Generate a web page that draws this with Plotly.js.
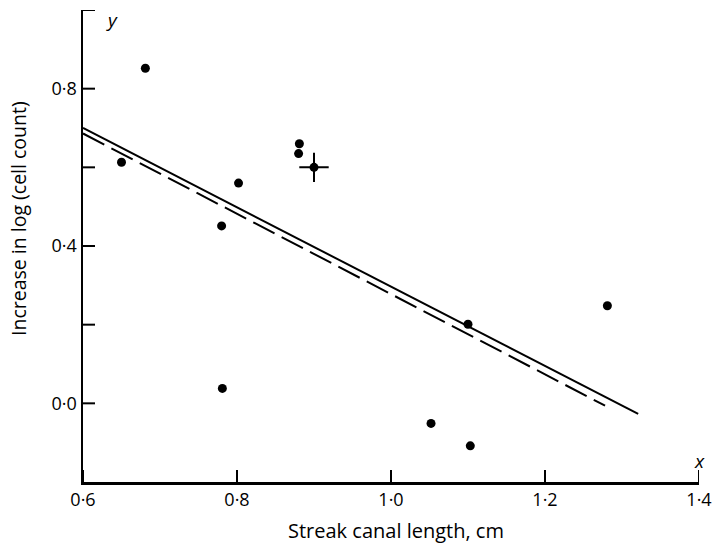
<!DOCTYPE html>
<html>
<head>
<meta charset="utf-8">
<script src="https://cdn.plot.ly/plotly-3.0.1.min.js"></script>
<style>
  html, body { margin: 0; padding: 0; background: #fff; }
  #chart { width: 712px; height: 545px; }
</style>
</head>
<body>
<div id="chart"></div>
<script>
// Streak canal length (cm) vs increase in log (cell count)
const canalLength = [0.650, 0.681, 0.780, 0.781, 0.802, 0.881, 0.880, 1.100, 1.052, 1.103, 1.281];
const logIncrease = [0.613, 0.852, 0.451, 0.038, 0.560, 0.660, 0.635, 0.201, -0.051, -0.108, 0.248];

// Point marked with a cross
const markedX = [0.900];
const markedY = [0.600];

// Fitted regression lines
const solidLineX = [0.600, 1.321];
const solidLineY = [0.700, -0.027];
const dashedLineX = [0.600, 1.278];
const dashedLineY = [0.686, -0.006];

// Axis ticks
const xTickVals = [0.6, 0.8, 1.0, 1.2, 1.4];
const xTickText = ['0·6', '0·8', '1·0', '1·2', '1·4'];
const yTickVals = [0.0, 0.2, 0.4, 0.6, 0.8, 1.0];
const yTickText = ['0·0', '', '0·4', '', '0·8', ''];

const FONT = '"Open Sans", "Noto Sans", sans-serif';
const TICK_LEN = 12;

const traces = [
  {
    x: solidLineX, y: solidLineY, mode: 'lines', type: 'scatter',
    line: { color: '#000', width: 2 }, hoverinfo: 'skip'
  },
  {
    x: dashedLineX, y: dashedLineY, mode: 'lines', type: 'scatter',
    line: { color: '#000', width: 2, dash: '24px,8px' }, hoverinfo: 'skip'
  },
  {
    x: canalLength, y: logIncrease, mode: 'markers', type: 'scatter',
    marker: { color: '#000', size: 9, symbol: 'circle' }
  },
  {
    x: markedX, y: markedY, mode: 'markers', type: 'scatter',
    marker: { color: '#000', size: 9, symbol: 'circle' }
  },
  {
    x: markedX, y: markedY, mode: 'markers', type: 'scatter',
    marker: { color: '#000', size: 21, symbol: 'cross-thin-open', line: { color: '#000', width: 2 } }
  }
];

// Inward tick marks drawn as pixel-length shapes anchored on each axis
const tickShapes = [
  ...xTickVals.map(v => ({
    type: 'line', layer: 'above', xref: 'x', yref: 'paper',
    ysizemode: 'pixel', yanchor: 0, y0: 0, y1: TICK_LEN, x0: v, x1: v,
    line: { color: '#000', width: 2 }
  })),
  ...yTickVals.map(v => ({
    type: 'line', layer: 'above', xref: 'paper', yref: 'y',
    xsizemode: 'pixel', xanchor: 0, x0: 0, x1: TICK_LEN, y0: v, y1: v,
    line: { color: '#000', width: 2 }
  }))
];

const layout = {
  width: 712, height: 545,
  margin: { l: 83, r: 13, t: 10, b: 63 },
  paper_bgcolor: '#fff', plot_bgcolor: '#fff',
  showlegend: false,
  font: { family: FONT, color: '#000', size: 18 },
  xaxis: {
    range: [0.6, 1.4], tickmode: 'array', tickvals: xTickVals, ticktext: xTickText,
    showgrid: false, zeroline: false, showline: true, linecolor: '#000', linewidth: 2.5,
    ticks: '', ticklabeloverflow: 'allow',
    tickfont: { family: FONT, size: 18, color: '#000' }
  },
  yaxis: {
    range: [-0.2, 1.0], tickmode: 'array', tickvals: yTickVals, ticktext: yTickText,
    showgrid: false, zeroline: false, showline: true, linecolor: '#000', linewidth: 2.5,
    ticks: '',
    tickfont: { family: FONT, size: 18, color: '#000' }
  },
  shapes: tickShapes,
  annotations: [
    {
      text: 'Streak canal length, cm', xref: 'paper', yref: 'paper',
      x: (396 - 83) / 616, y: -(530 - 482) / 472, xanchor: 'center', yanchor: 'middle',
      showarrow: false, font: { family: FONT, size: 20, color: '#000' }
    },
    {
      text: 'Increase in log (cell count)', xref: 'paper', yref: 'paper',
      x: (18 - 83) / 616, y: (482 - 219) / 472, xanchor: 'center', yanchor: 'middle',
      textangle: -90, showarrow: false, font: { family: FONT, size: 19.5, color: '#000' }
    },
    {
      text: '<i>y</i>', xref: 'paper', yref: 'paper',
      x: (112 - 83) / 616, y: (482 - 20) / 472, xanchor: 'center', yanchor: 'middle',
      showarrow: false, font: { family: FONT, size: 19, color: '#000' }
    },
    {
      text: '<i>x</i>', xref: 'paper', yref: 'paper',
      x: (699 - 83) / 616, y: (482 - 461) / 472, xanchor: 'center', yanchor: 'middle',
      showarrow: false, font: { family: FONT, size: 19, color: '#000' }
    }
  ]
};

Plotly.newPlot('chart', traces, layout, { displayModeBar: false, staticPlot: true });
</script>
</body>
</html>
